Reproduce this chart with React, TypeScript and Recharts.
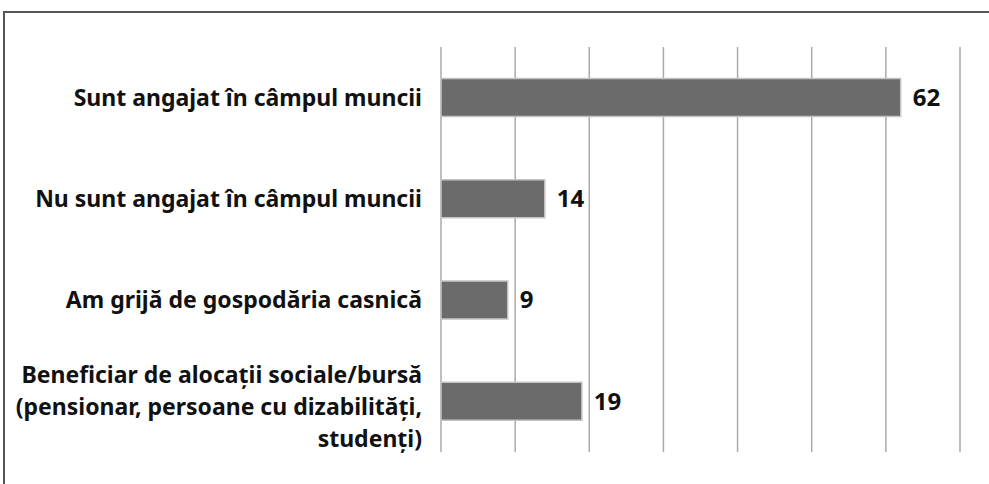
import { BarChart, Bar, XAxis, YAxis, CartesianGrid, LabelList } from 'recharts';

const categories = [
  'Sunt angajat în câmpul muncii',
  'Nu sunt angajat în câmpul muncii',
  'Am grijă de gospodăria casnică',
  'Beneficiar de alocații sociale/bursă\n(pensionar, persoane cu dizabilități,\nstudenți)',
];
const values = [62, 14, 9, 19];
const xTicks = [0, 10, 20, 30, 40, 50, 60, 70];

const data = categories.map((name, i) => ({ name, value: values[i] }));

const FONT = '"Noto Sans", sans-serif';

function CategoryTick(props: any) {
  const { x, y, payload } = props;
  const lines = String(payload.value).split('\n');
  const lh = 32;
  // multi-line labels sit a little low in the original
  const start = lines.length > 1 ? -((lines.length - 1) * lh) / 2 + 6 : 0;
  return (
    <text x={x - 11} y={y} textAnchor="end" fontFamily={FONT} fontWeight="bold" fontSize={23} fill="#111">
      {lines.map((l, i) => (
        <tspan key={i} x={x - 11} y={y + start + i * lh} dy="0.35em">
          {l}
        </tspan>
      ))}
    </text>
  );
}

export default function App() {
  return (
    <div style={{ position: 'fixed', top: 0, left: 0, width: 989, height: 484, background: '#fff' }}>
      <div
        style={{
          position: 'absolute',
          top: 11,
          left: 3,
          width: 989,
          height: 484,
          borderTop: '2px solid #555',
          borderLeft: '2px solid #555',
        }}
      />
      <BarChart
        width={989}
        height={484}
        data={data}
        layout="vertical"
        margin={{ top: 47, right: 29, bottom: 32, left: 0 }}
        barCategoryGap="31%"
      >
        <CartesianGrid horizontal={false} stroke="#aaa" strokeWidth={1.5} />
        <XAxis type="number" domain={[0, 70]} ticks={xTicks} hide />
        <YAxis
          type="category"
          dataKey="name"
          width={441}
          axisLine={false}
          tickLine={false}
          tick={<CategoryTick />}
          interval={0}
        />
        <Bar dataKey="value" fill="#6b6b6b" stroke="#c4c4c4" strokeWidth={1.5} isAnimationActive={false}>
          <LabelList
            dataKey="value"
            position="right"
            offset={12}
            fill="#111"
            fontFamily={FONT}
            fontWeight="bold"
            fontSize={24}
          />
        </Bar>
      </BarChart>
    </div>
  );
}
